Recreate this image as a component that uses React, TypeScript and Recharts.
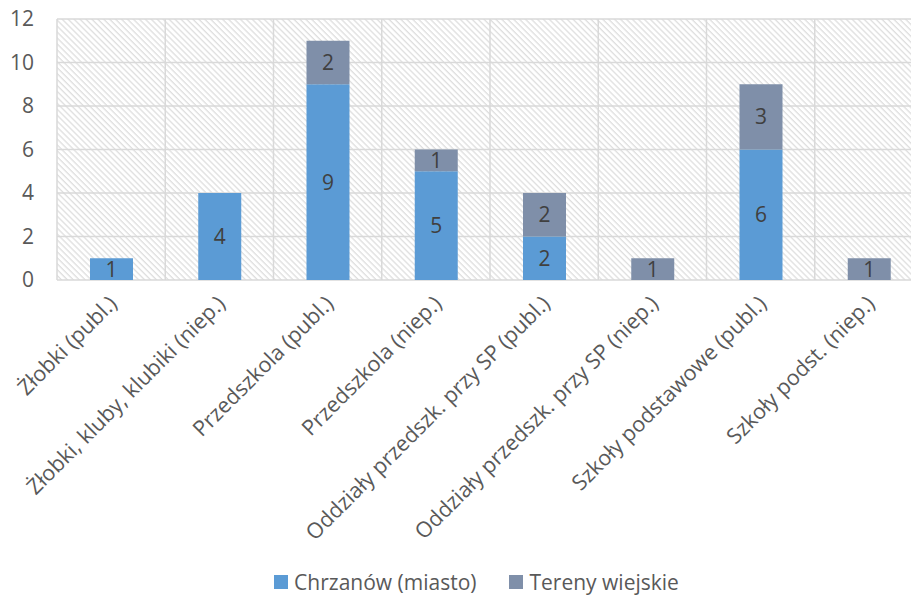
import React from 'react';
import { BarChart, Bar, XAxis, YAxis, CartesianGrid, LabelList, Legend } from 'recharts';

const categories = [
  'Żłobki (publ.)',
  'Żłobki, kluby, klubiki (niep.)',
  'Przedszkola (publ.)',
  'Przedszkola (niep.)',
  'Oddziały przedszk. przy SP (publ.)',
  'Oddziały przedszk. przy SP (niep.)',
  'Szkoły podstawowe (publ.)',
  'Szkoły podst. (niep.)',
];
const chrzanow = [1, 4, 9, 5, 2, 0, 6, 0];
const tereny = [0, 0, 2, 1, 2, 1, 3, 1];
const yTicks = [0, 2, 4, 6, 8, 10, 12];
const seriesNames = ['Chrzanów (miasto)', 'Tereny wiejskie'];
const seriesColors = ['#5B9BD5', '#7F8FA9'];

const data = categories.map((name, i) => ({ name, a: chrzanow[i], b: tereny[i] }));

const FONT = '"Open Sans", "Noto Sans", sans-serif';
const TEXT = '#595959';
const FS = 21;

const XTick = (props: any) => {
  const { x, y, payload } = props;
  return (
    <g transform={`translate(${x + 7},${y + 25})`}>
      <text transform="rotate(-45)" textAnchor="end" fill={TEXT} fontSize={21.5} fontFamily={FONT}>
        {payload.value}
      </text>
    </g>
  );
};

const LegendContent = () => (
  <div
    style={{
      display: 'flex',
      justifyContent: 'center',
      alignItems: 'center',
      height: 34,
      paddingLeft: 30,
      fontFamily: FONT,
      fontSize: FS,
      color: TEXT,
    }}
  >
    {seriesNames.map((n, i) => (
      <div key={n} style={{ display: 'flex', alignItems: 'center', marginRight: i === 0 ? 33 : 0 }}>
        <span style={{ width: 14, height: 14, background: seriesColors[i], display: 'inline-block', marginRight: 6 }} />
        <span>{n}</span>
      </div>
    ))}
  </div>
);

const fmt = (v: any) => (v ? v : '');

export default function App() {
  return (
    <div style={{ position: 'absolute', left: 0, top: 0, width: 911, height: 599, overflow: 'hidden', background: '#fff' }}>
      <BarChart
        width={935}
        height={599}
        data={data}
        margin={{ top: 19, right: 12, left: 0, bottom: 0 }}
        barSize={43}
      >
        <defs>
          <pattern id="hatch" width="4.2" height="4.2" patternUnits="userSpaceOnUse" patternTransform="rotate(-45)">
            <rect width="4.2" height="4.2" fill="#ffffff" />
            <line x1="1" y1="0" x2="1" y2="4.2" stroke="#dcdcdc" strokeWidth="1.2" />
          </pattern>
        </defs>
        <CartesianGrid
          fill="url(#hatch)"
          stroke="#d9d9d9"
          strokeWidth={1.5}
          verticalCoordinatesGenerator={({ offset }: any) =>
            Array.from({ length: categories.length + 1 }, (_, i) => offset.left + (i * offset.width) / categories.length)
          }
        />
        <XAxis
          dataKey="name"
          interval={0}
          axisLine={false}
          tickLine={false}
          tickSize={0}
          tickMargin={0}
          height={285}
          tick={<XTick />}
        />
        <YAxis
          domain={[0, 12]}
          ticks={yTicks}
          axisLine={false}
          tickLine={false}
          tickSize={0}
          tickMargin={23}
          width={57}
          tick={{ fill: TEXT, fontSize: FS, fontFamily: FONT }}
        />
        <Legend verticalAlign="bottom" content={<LegendContent />} />
        <Bar dataKey="a" name={seriesNames[0]} stackId="s" fill={seriesColors[0]} isAnimationActive={false}>
          <LabelList dataKey="a" position="center" formatter={fmt} fill="#404040" fontSize={FS} fontFamily={FONT} />
        </Bar>
        <Bar dataKey="b" name={seriesNames[1]} stackId="s" fill={seriesColors[1]} isAnimationActive={false}>
          <LabelList dataKey="b" position="center" formatter={fmt} fill="#404040" fontSize={FS} fontFamily={FONT} />
        </Bar>
      </BarChart>
    </div>
  );
}
